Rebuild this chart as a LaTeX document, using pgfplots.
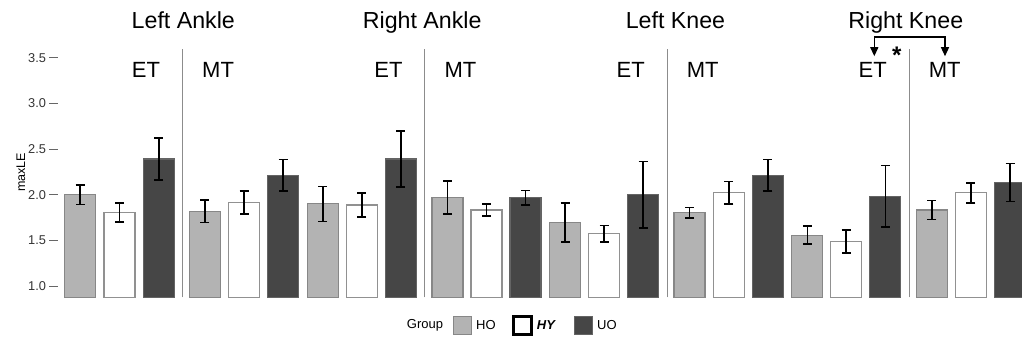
\documentclass[border=0pt]{standalone}
\usepackage{fontspec}
\setmainfont{Liberation Sans}
\usepackage{pgfplots}
\usepackage{pgfplotstable}
\pgfplotsset{compat=1.18}
\usetikzlibrary{arrows.meta}
\definecolor{hofill}{RGB}{179,179,179}
\definecolor{hoedge}{RGB}{135,135,135}
\definecolor{hyedge}{RGB}{145,145,145}
\definecolor{uofill}{RGB}{70,70,70}
\definecolor{uoedge}{RGB}{100,100,100}
\definecolor{sepcol}{RGB}{140,140,140}
\tikzset{
  ET/.style={anchor=base east, inner sep=0pt, font=\fontsize{22}{26}\selectfont},
  MT/.style={anchor=base west, inner sep=0pt, font=\fontsize{22}{26}\selectfont},
  TT/.style={anchor=base, inner sep=0pt, font=\fontsize{23.2}{27}\selectfont},
  SEP/.style={sepcol, line width=1pt},
}

\pgfplotstableread{
x y e
80.2 2.000 0.107
204.8 1.820 0.125
322.7 1.900 0.192
447.5 1.970 0.180
565.0 1.695 0.213
689.5 1.804 0.056
807.3 1.557 0.098
931.8 1.833 0.104
}\ho
\pgfplotstableread{
x y e
119.5 1.804 0.104
244.2 1.913 0.126
361.7 1.888 0.130
486.5 1.833 0.068
604.2 1.572 0.091
728.8 2.022 0.125
846.2 1.488 0.123
970.8 2.022 0.109
}\hy
\pgfplotstableread{
x y e
158.7 2.392 0.232
283.2 2.214 0.171
400.7 2.392 0.309
525.5 1.967 0.078
643.2 2.000 0.363
767.8 2.214 0.171
885.3 1.982 0.337
1010.2 2.134 0.207
}\uo

\begin{document}
\begin{tikzpicture}
\path[use as bounding box] (0,0) rectangle (1022pt,341pt);
\begin{axis}[
  at={(58pt,43pt)}, anchor=south west,
  scale only axis, width=964pt, height=251pt,
  y coord trafo/.code={\pgfmathparse{#1-0.875}},
  y coord inv trafo/.code={\pgfmathparse{#1+0.875}},
  xmin=58, xmax=1022, ymin=0.869, ymax=3.619,
  axis line style={draw=none},
  xtick=\empty,
  ytick={1,1.5,2,2.5,3,3.5},
  ytick pos=left,
  yticklabel style={/pgf/number format/.cd, fixed, fixed zerofill, precision=1, assume math mode=true},
  tick label style={font=\fontsize{12.8}{15}\selectfont, text=black!80},
  ylabel={maxLE},
  ylabel style={font=\fontsize{12.5}{15}\selectfont, xshift=0pt, yshift=-4pt},
  tick align=outside, major tick length=8.5pt,
  ytick style={draw=black!60, line width=1pt},
  clip mode=individual,
  every axis plot/.append style={ybar, bar width=31pt, bar shift=0pt},
  error bars/error bar style={black, line width=1.6pt},
  error bars/error mark options={rotate=90, mark size=4.5pt, black, line width=1.6pt},
]
\addplot[fill=hofill, draw=hoedge, line width=1.2pt,
  error bars/.cd, y dir=both, y explicit]
  table[x=x, y=y, y error=e]{\ho};
\addplot[fill=white, draw=hyedge, line width=1.2pt,
  error bars/.cd, y dir=both, y explicit]
  table[x=x, y=y, y error=e]{\hy};
\addplot[fill=uofill, draw=uoedge, line width=1.2pt,
  error bars/.cd, y dir=both, y explicit]
  table[x=x, y=y, y error=e]{\uo};

% separators
\draw[SEP] (axis cs:182.3,0.875) -- (axis cs:182.3,3.60);
\draw[SEP] (axis cs:424.7,0.875) -- (axis cs:424.7,3.60);
\draw[SEP] (axis cs:667,0.875) -- (axis cs:667,3.60);
\draw[SEP] (axis cs:909,0.875) -- (axis cs:909,3.60);
\node[ET] at (axis cs:160.3,3.281) {ET};
\node[MT] at (axis cs:202.0,3.281) {MT};
\node[ET] at (axis cs:402.7,3.281) {ET};
\node[MT] at (axis cs:444.4,3.281) {MT};
\node[ET] at (axis cs:645,3.281) {ET};
\node[MT] at (axis cs:686.7,3.281) {MT};
\node[ET] at (axis cs:887,3.281) {ET};
\node[MT] at (axis cs:928.7,3.281) {MT};
% titles
\node[TT] at (axis cs:183.3,3.823) {Left Ankle};
\node[TT] at (axis cs:422.2,3.823) {Right Ankle};
\node[TT] at (axis cs:675.5,3.823) {Left Knee};
\node[TT] at (axis cs:905.8,3.823) {Right Knee};
% bracket
\draw[black, line width=1.3pt, {Triangle[length=9pt,width=8pt]}-{Triangle[length=9pt,width=8pt]}]
  (axis cs:874.3,3.518) -- (axis cs:874.3,3.73) -- (axis cs:945,3.73) -- (axis cs:945,3.518);
\node[anchor=base, inner sep=0pt, font=\fontsize{24}{28}\selectfont\bfseries] at (axis cs:896.7,3.438) {*};
\end{axis}
% legend
\node[anchor=west, inner sep=0pt, font=\fontsize{13}{15}\selectfont] at (406.7pt,15.5pt) {Group};
\filldraw[fill=hofill, draw=hoedge, line width=0.8pt] (453pt,6.5pt) rectangle (471pt,24.5pt);
\node[anchor=west, inner sep=0pt, font=\fontsize{13}{15}\selectfont] at (476pt,15.5pt) {HO};
\filldraw[fill=white, draw=black, line width=2.5pt] (513.5pt,6.5pt) rectangle (531.5pt,24.5pt);
\node[anchor=west, inner sep=0pt, font=\fontsize{13}{15}\selectfont\bfseries\itshape] at (536.7pt,15.5pt) {HY};
\filldraw[fill=uofill, draw=uoedge, line width=0.8pt] (574.3pt,6.5pt) rectangle (592.3pt,24.5pt);
\node[anchor=west, inner sep=0pt, font=\fontsize{13}{15}\selectfont] at (597pt,15.5pt) {UO};
\end{tikzpicture}
\end{document}
